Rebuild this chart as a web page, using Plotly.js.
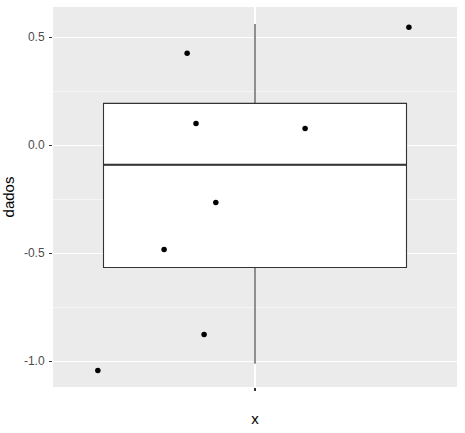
<!DOCTYPE html>
<html><head><meta charset="utf-8">
<script src="https://cdn.plot.ly/plotly-3.0.1.min.js"></script>
<style>html,body{margin:0;padding:0;background:#fff}#chart{width:465px;height:433px}</style>
</head><body><div id="chart"></div>
<script>
// box statistics
const category = 0;
const categoryLabel = "x";
const q1 = [-0.566];
const median = [-0.091];
const q3 = [0.193];
const lowerFence = [-1.011];
const upperFence = [0.560];
// jittered points
const pointX = [-0.389, -0.168, 0.381, -0.146, 0.124, -0.097, -0.225, -0.126];
const pointY = [-1.043, 0.425, 0.545, 0.100, 0.077, -0.265, -0.483, -0.876];
// tick labels
const yTickVals = [-1.0, -0.5, 0.0, 0.5];
const yTickText = ["-1.0", "-0.5", "0.0", "0.5"];

const boxWidth = 0.75;
const dark = "#333333";

const traces = [
  {
    type: "box", x: [category], q1: q1, median: median, q3: q3,
    lowerfence: lowerFence, upperfence: upperFence,
    width: boxWidth, whiskerwidth: 0, boxpoints: false,
    fillcolor: "#ffffff", line: {color: dark, width: 1.1},
    hoverinfo: "skip"
  },
  {
    type: "scatter", mode: "lines",
    x: [category - boxWidth / 2, category + boxWidth / 2],
    y: [median[0], median[0]],
    line: {color: dark, width: 2.1}, hoverinfo: "skip"
  },
  {
    type: "scatter", mode: "markers", x: pointX, y: pointY,
    marker: {color: "#000000", size: 5.5}, hoverinfo: "skip"
  }
];

const font = {family: "Liberation Sans, Arial, sans-serif"};
const layout = {
  width: 465, height: 433,
  margin: {l: 53, r: 8, t: 7, b: 46, autoexpand: false},
  paper_bgcolor: "#ffffff", plot_bgcolor: "#EBEBEB",
  showlegend: false,
  font: font,
  xaxis: {
    range: [-0.5, 0.5], tickvals: [category], ticktext: [categoryLabel],
    showgrid: true, gridcolor: "#ffffff", gridwidth: 1.07,
    zeroline: false, showline: false,
    ticks: "outside", ticklen: 3, tickwidth: 1.07, tickcolor: dark,
    tickfont: {size: 12, color: "#ffffff", family: font.family},
    title: {text: categoryLabel, font: {size: 15, color: "#000000", family: font.family}, standoff: 6}
  },
  yaxis: {
    range: [-1.119, 0.639], tickvals: yTickVals, ticktext: yTickText,
    showgrid: true, gridcolor: "#ffffff", gridwidth: 1.07,
    minor: {dtick: 0.25, tick0: 0, showgrid: true, gridcolor: "#ffffff", gridwidth: 0.55, ticks: ""},
    zeroline: false, showline: false, automargin: true,
    ticks: "outside", ticklen: 3, tickwidth: 1.07, tickcolor: dark,
    ticklabelstandoff: 2,
    tickfont: {size: 12, color: "#4D4D4D", family: font.family},
    title: {text: "dados", font: {size: 15, color: "#000000", family: font.family}, standoff: 6}
  }
};
Plotly.newPlot("chart", traces, layout, {staticPlot: true, displayModeBar: false});
</script></body></html>
